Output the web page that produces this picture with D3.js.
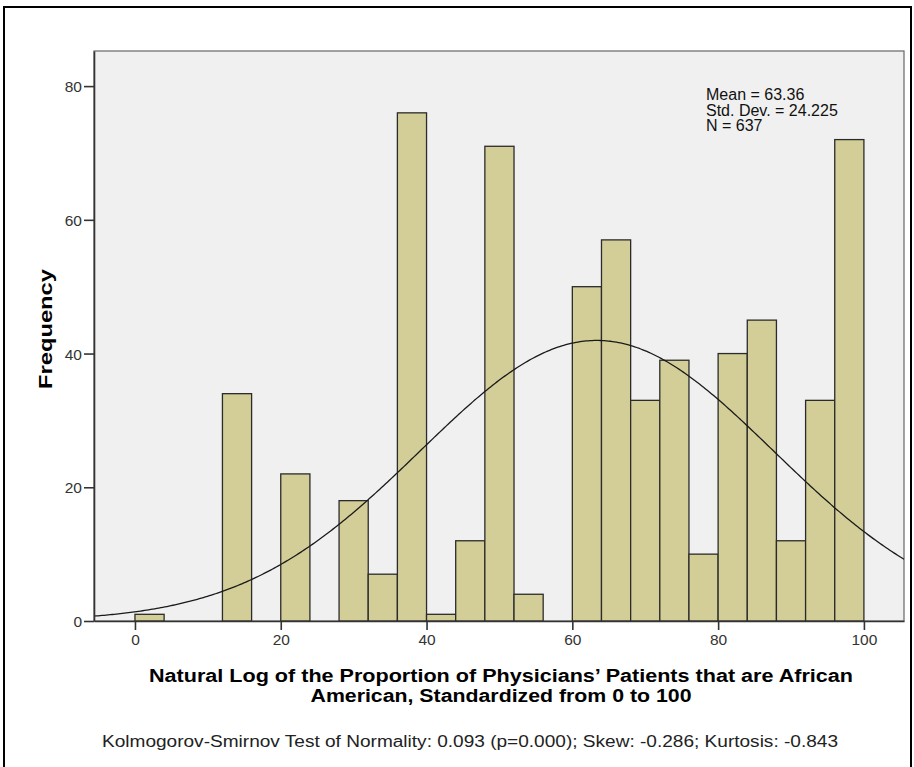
<!DOCTYPE html>
<html>
<head>
<meta charset="utf-8">
<script src="https://cdn.jsdelivr.net/npm/d3@7"></script>
<style>
  html, body { margin: 0; padding: 0; background: #fff; }
  svg { display: block; font-family: Arial, "Liberation Sans", sans-serif; }
</style>
</head>
<body>
<svg id="chart" width="914" height="767"></svg>
<script>
// Histogram bins (width 4) and their frequencies
const binStarts = [0, 4, 8, 12, 16, 20, 24, 28, 32, 36, 40, 44, 48, 52, 56, 60, 64, 68, 72, 76, 80, 84, 88, 92, 96];
const frequencies = [1, 0, 0, 34, 0, 22, 0, 18, 7, 76, 1, 12, 71, 4, 0, 50, 57, 33, 39, 10, 40, 45, 12, 33, 72];
const binWidth = 4;

// Summary statistics shown in the plot
const mean = 63.36;
const stdDev = 24.225;
const nObs = 637;
const statLines = ["Mean = 63.36", "Std. Dev. = 24.225", "N = 637"];

// Axis ticks and titles
const xTicks = [0, 20, 40, 60, 80, 100];
const yTicks = [0, 20, 40, 60, 80];
const xTitleLines = [
  "Natural Log of the Proportion of Physicians\u2019 Patients that are African",
  "American, Standardized from 0 to 100"
];
const yTitle = "Frequency";
const footnote = "Kolmogorov-Smirnov Test of Normality: 0.093 (p=0.000); Skew: -0.286; Kurtosis: -0.843";

const svg = d3.select("#chart");

// Outer frame
svg.append("rect")
  .attr("x", 4).attr("y", 7).attr("width", 907).attr("height", 800)
  .attr("fill", "none").attr("stroke", "#000").attr("stroke-width", 2);

const plot = { left: 94, right: 904, top: 51, bottom: 621 };

const x = d3.scaleLinear().domain([-5.62, 105.5]).range([plot.left, plot.right]);
const y = d3.scaleLinear().domain([0, 85.25]).range([plot.bottom, plot.top]);

// Plot background
svg.append("rect")
  .attr("x", plot.left).attr("y", plot.top)
  .attr("width", plot.right - plot.left).attr("height", plot.bottom - plot.top)
  .attr("fill", "#f0f0f0").attr("stroke", "#666").attr("stroke-width", 1.2);

// Bars
const bins = binStarts.map((s, i) => ({ x0: s, x1: s + binWidth, n: frequencies[i] }));
svg.append("g").selectAll("rect")
  .data(bins.filter(d => d.n > 0))
  .join("rect")
  .attr("x", d => x(d.x0))
  .attr("y", d => y(d.n))
  .attr("width", d => x(d.x1) - x(d.x0))
  .attr("height", d => y(0) - y(d.n))
  .attr("fill", "#d3ce97")
  .attr("stroke", "#2b2b2b")
  .attr("stroke-width", 1.3);

// Fitted normal curve scaled to counts per bin
const normal = v => nObs * binWidth / (stdDev * Math.sqrt(2 * Math.PI)) *
  Math.exp(-0.5 * Math.pow((v - mean) / stdDev, 2));
const curvePts = d3.range(0, 401).map(i => {
  const v = x.domain()[0] + (x.domain()[1] - x.domain()[0]) * i / 400;
  return [v, normal(v)];
});
svg.append("path")
  .datum(curvePts)
  .attr("d", d3.line().x(d => x(d[0])).y(d => y(d[1])))
  .attr("fill", "none").attr("stroke", "#1a1a1a").attr("stroke-width", 1.3);

// Axes
const xAxis = svg.append("g")
  .attr("transform", `translate(0,${plot.bottom})`)
  .call(d3.axisBottom(x).tickValues(xTicks).tickSizeInner(9).tickSizeOuter(0)
    .tickPadding(4).tickFormat(d3.format("d")));
const yAxis = svg.append("g")
  .attr("transform", `translate(${plot.left},0)`)
  .call(d3.axisLeft(y).tickValues(yTicks).tickSizeInner(10).tickSizeOuter(0)
    .tickPadding(2).tickFormat(d3.format("d")));

[xAxis, yAxis].forEach(g => {
  g.select(".domain").attr("stroke", "#333").attr("stroke-width", 1.6);
  g.selectAll(".tick line").attr("stroke", "#333").attr("stroke-width", 1.6);
  g.selectAll(".tick text")
    .attr("fill", "#333")
    .style("font-size", "15.5px")
    .style("font-family", "Arial, 'Liberation Sans', sans-serif");
});
xAxis.selectAll(".tick text").attr("dy", "0.72em");
yAxis.selectAll(".tick text").attr("dy", "0.36em");

// Statistics box text
svg.append("g").selectAll("text")
  .data(statLines)
  .join("text")
  .attr("x", 706)
  .attr("y", (d, i) => 100 + i * 15.5)
  .attr("fill", "#111")
  .style("font-size", "16px")
  .text(d => d);

// Y axis title
svg.append("text")
  .attr("transform", "translate(52,329) rotate(-90)")
  .attr("text-anchor", "middle")
  .attr("font-weight", "bold")
  .attr("fill", "#000")
  .attr("textLength", 120)
  .attr("lengthAdjust", "spacingAndGlyphs")
  .style("font-size", "19px")
  .text(yTitle);

// X axis title (two lines)
const titleSpans = [
  { text: xTitleLines[0], y: 682, len: 704 },
  { text: xTitleLines[1], y: 702, len: 381 }
];
svg.append("g").selectAll("text")
  .data(titleSpans)
  .join("text")
  .attr("x", 501)
  .attr("y", d => d.y)
  .attr("text-anchor", "middle")
  .attr("font-weight", "bold")
  .attr("fill", "#000")
  .attr("textLength", d => d.len)
  .attr("lengthAdjust", "spacingAndGlyphs")
  .style("font-size", "18px")
  .text(d => d.text);

// Normality test note
svg.append("text")
  .attr("x", 102)
  .attr("y", 747)
  .attr("fill", "#222")
  .attr("textLength", 736)
  .attr("lengthAdjust", "spacingAndGlyphs")
  .style("font-size", "16px")
  .text(footnote);
</script>
</body>
</html>
